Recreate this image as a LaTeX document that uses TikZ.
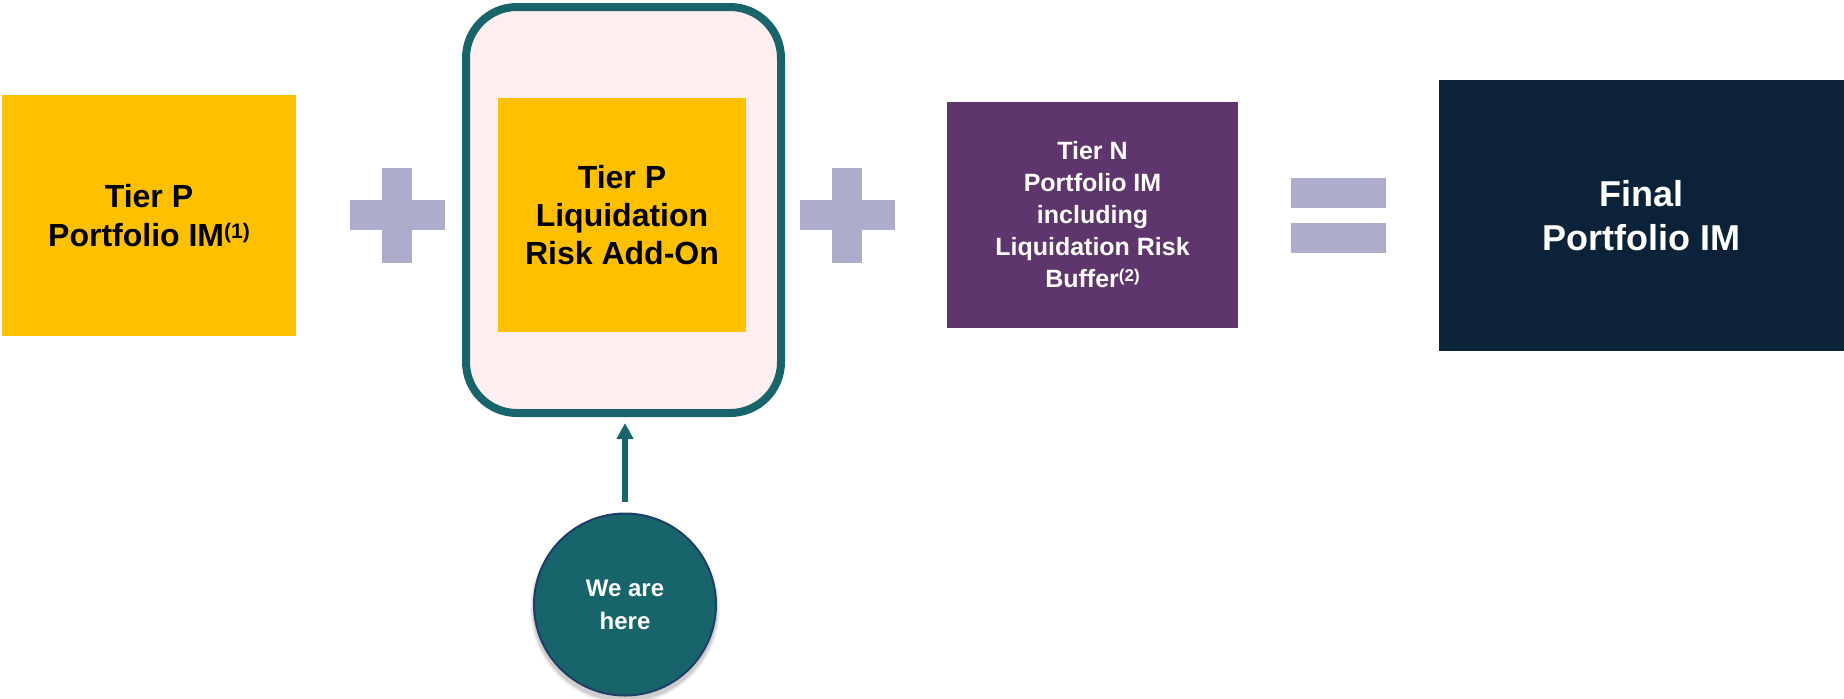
\documentclass[tikz,border=0pt]{standalone}
\usepackage{fontspec}
\setmainfont{Liberation Sans}
\usetikzlibrary{arrows.meta}

\definecolor{gold}{HTML}{FFC000}
\definecolor{opgrey}{HTML}{ADADCB}
\definecolor{plum}{HTML}{5E366D}
\definecolor{nightnavy}{HTML}{0C2238}
\definecolor{tealdk}{HTML}{17646A}
\definecolor{blush}{HTML}{FDEEEF}
\definecolor{ringblue}{HTML}{1E3E6A}

% footnote marks set as small raised numbers
\newcommand{\fnmark}[3]{\raisebox{#2}{\fontsize{#3}{#3}\selectfont(#1)}}

\begin{document}
\begin{tikzpicture}[x=0.5pt, y=-0.5pt,
  every node/.style={outer sep=0pt, inner sep=0pt},
  block/.style={rectangle, align=center, font=\bfseries},
  bigtext/.style={font=\fontsize{16}{19.2}\selectfont\bfseries},
  plussign/.pic={
    \fill[opgrey] (-47.5,-15) rectangle (47.5,15);
    \fill[opgrey] (-15,-47.5) rectangle (15,47.5);
  },
  equalssign/.pic={
    \fill[opgrey] (-47.5,-37.5) rectangle (47.5,-7.5);
    \fill[opgrey] (-47.5,7.5) rectangle (47.5,37.5);
  }]

\useasboundingbox (0,0) rectangle (1844,698);

% first term
\node[block, bigtext, fill=gold, minimum width=147pt, minimum height=120.5pt]
  (tierp) at (149,215.5) {Tier P\\Portfolio IM\fnmark{1}{4pt}{10.5}};

\pic at (397,215) {plussign};

% highlighted second term
\node[rectangle, draw=tealdk, line width=4pt, fill=blush, rounded corners=25.5pt,
  minimum width=157.5pt, minimum height=203pt] (lra) at (623.5,210) {};
\node[block, bigtext, fill=gold, minimum width=124pt, minimum height=117pt]
  (addon) at (622,215) {Tier P\\Liquidation\\Risk Add-On};

\pic at (847,215) {plussign};

% third term
\node[block, fill=plum, text=white, font=\fontsize{12.5}{16}\selectfont\bfseries,
  minimum width=145.5pt, minimum height=113pt]
  (tiern) at (1092.5,215) {Tier N\\Portfolio IM\\including\\Liquidation Risk\\Buffer\fnmark{2}{3pt}{8.5}};

\pic at (1338.5,215) {equalssign};

% result
\node[block, fill=nightnavy, text=white, font=\fontsize{18}{22}\selectfont\bfseries,
  minimum width=202.5pt, minimum height=135.5pt]
  (final) at (1641.5,215.5) {Final\\Portfolio IM};

% soft shadow under the marker
\foreach \r/\o in {47.5pt/0.05, 46.8pt/0.07, 46.2pt/0.09}
  \fill[black, opacity=\o] (625,609) circle (\r);

% "we are here" marker
\node[circle, fill=tealdk, draw=ringblue, line width=1pt, minimum size=91pt,
  text=white, align=center, font=\fontsize{12}{16.5}\selectfont\bfseries]
  (here) at (625,604.5) {We are\\here};

\draw[tealdk, line width=3pt, -{Triangle[width=8pt,length=8pt]},
  shorten <=6pt, shorten >=5pt] (here.north) -- (here.north |- lra.south);

\end{tikzpicture}
\end{document}
